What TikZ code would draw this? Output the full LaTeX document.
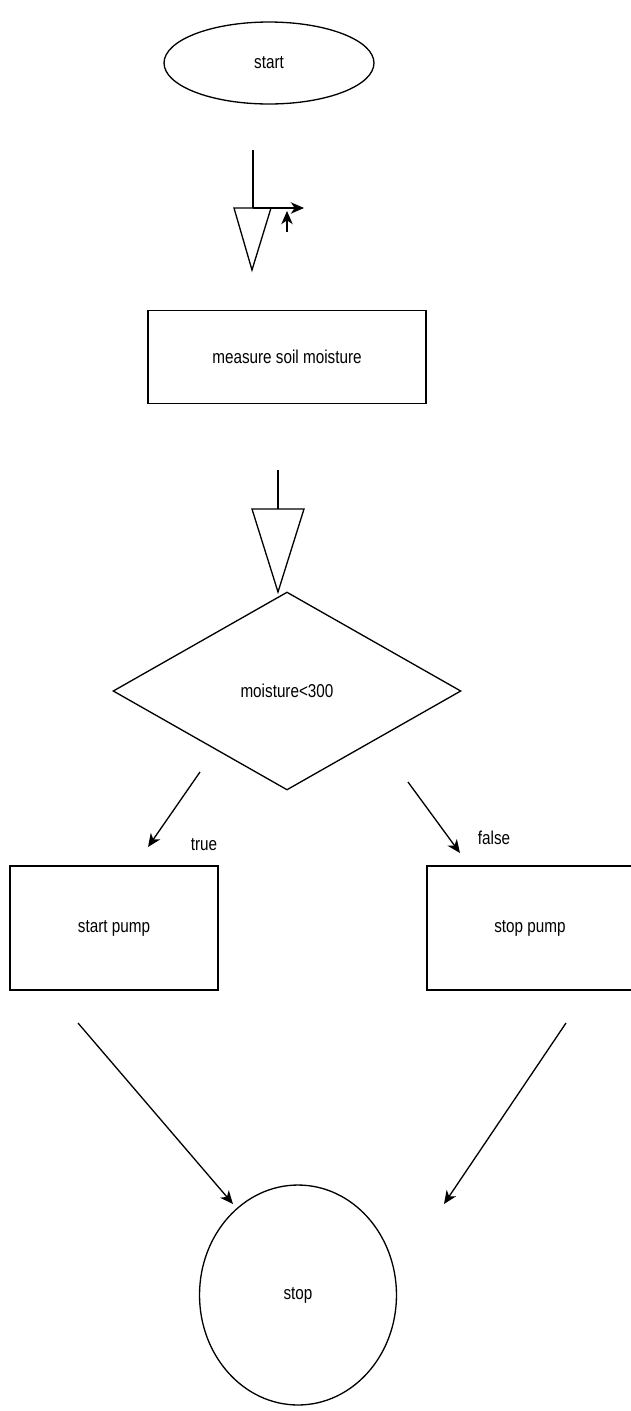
\documentclass[tikz,border=0pt]{standalone}
\usepackage{fontspec}
\setmainfont{Liberation Sans}[FakeStretch=0.82]
\usetikzlibrary{arrows.meta,shapes.geometric}

\begin{document}
\begin{tikzpicture}[x=0.02cm,y=-0.02cm,line width=0.75pt,
   every node/.style={font=\fontsize{10.6}{12}\selectfont,inner sep=0pt},
   term/.style={draw,ellipse},
   proc/.style={draw,rectangle},
   cond/.style={draw,diamond},
   flow/.style={-{Stealth[length=7.5pt,width=6.5pt,inset=2.2pt]}}]
   \useasboundingbox (0,0) rectangle (630,1411);
   \node[term,minimum width=4.2cm,minimum height=1.64cm] (start) at (269,63) {start};
   \node[proc,minimum width=5.56cm,minimum height=1.86cm] (measure) at (287,357) {measure soil moisture};
   \node[cond,minimum width=6.96cm,minimum height=3.96cm] (check) at (287,691) {moisture<300};
   \node[proc,minimum width=4.16cm,minimum height=2.48cm] (pumpon) at (114,928) {start pump};
   \node[proc,minimum width=4.12cm,minimum height=2.48cm] (pumpoff) at (530,928) {stop pump};
   \node[term,minimum width=3.94cm,minimum height=4.4cm] (stop) at (298,1295) {stop};
   \node (lbltrue) at (204,845) {true};
   \node (lblfalse) at (494,838) {false};
   \coordinate (a1) at (253,150);
   \coordinate (a2) at (253,208);
   \coordinate (a3) at (304,208);
   \coordinate (a4) at (287,232);
   \coordinate (a5) at (287,211);
   \draw (a1) -- (a2);
   \draw (234,208) -- (271,208) -- (252,270) -- cycle;
   \draw[flow] (a2) -- (a3);
   \draw[flow] (a4) -- (a5);
   \coordinate (b1) at (278,470);
   \coordinate (b2) at (278,509);
   \draw (b1) -- (b2);
   \draw (252,509) -- (304,509) -- (278,592) -- cycle;
   \coordinate (t1) at (200,772);
   \coordinate (t2) at (148,847);
   \coordinate (f1) at (408,782);
   \coordinate (f2) at (460,853);
   \draw[flow] (t1) -- (t2);
   \draw[flow] (f1) -- (f2);
   \coordinate (l1) at (78,1023);
   \coordinate (l2) at (233,1204);
   \coordinate (r1) at (566,1023);
   \coordinate (r2) at (444,1204);
   \draw[flow] (l1) -- (l2);
   \draw[flow] (r1) -- (r2);
\end{tikzpicture}
\end{document}
